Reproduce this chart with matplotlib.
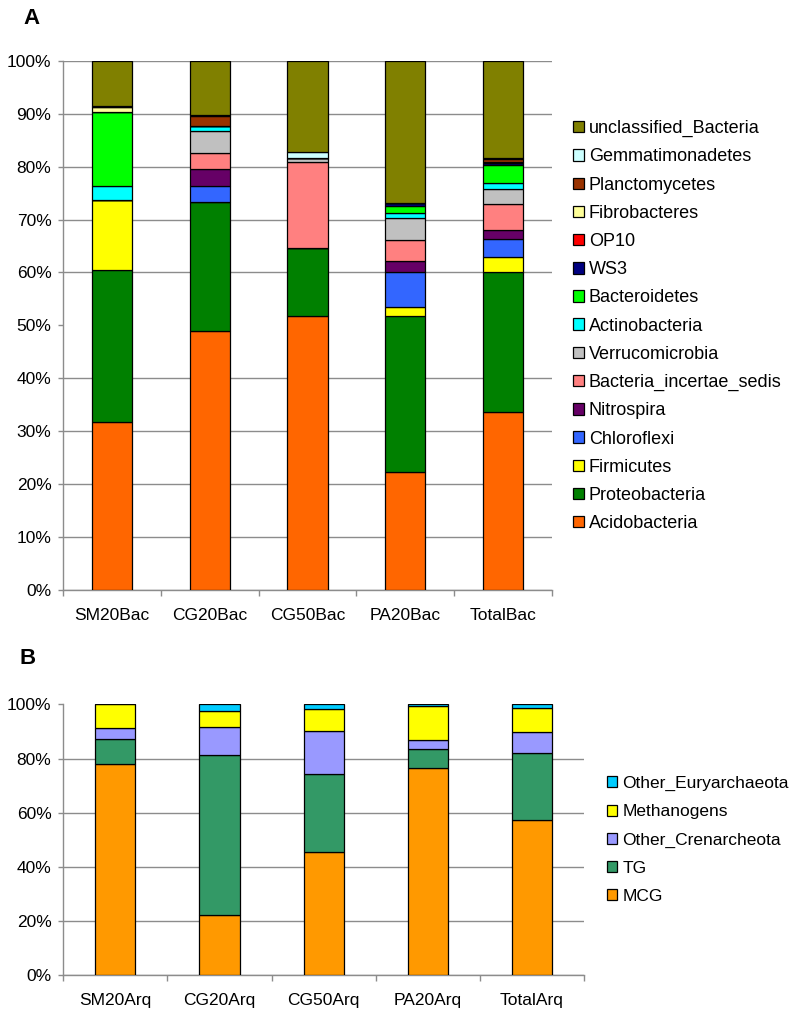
import numpy as np
import matplotlib
matplotlib.use('Agg')
import matplotlib.pyplot as plt

plt.rcParams['font.family'] = ['Liberation Sans', 'DejaVu Sans']

# Panel A data (percent of sequences), bottom to top
samples_bac = ['SM20Bac', 'CG20Bac', 'CG50Bac', 'PA20Bac', 'TotalBac']
phyla = ['Acidobacteria', 'Proteobacteria', 'Firmicutes', 'Chloroflexi', 'Nitrospira',
         'Bacteria_incertae_sedis', 'Verrucomicrobia', 'Actinobacteria', 'Bacteroidetes',
         'WS3', 'OP10', 'Fibrobacteres', 'Planctomycetes', 'Gemmatimonadetes',
         'unclassified_Bacteria']
acidobacteria = [31.7, 48.9, 51.8, 22.3, 33.6]
proteobacteria = [28.8, 24.5, 12.9, 29.5, 26.4]
firmicutes = [13.1, 0.0, 0.0, 1.7, 3.0]
chloroflexi = [0.0, 3.0, 0.0, 6.5, 3.3]
nitrospira = [0.0, 3.2, 0.0, 2.1, 1.8]
bacteria_incertae = [0.0, 2.9, 16.2, 4.1, 4.9]
verrucomicrobia = [0.0, 4.2, 0.8, 4.0, 2.7]
actinobacteria = [2.8, 0.9, 0.0, 1.1, 1.2]
bacteroidetes = [14.0, 0.0, 0.0, 1.3, 3.4]
ws3 = [0.0, 0.0, 0.0, 0.6, 0.3]
op10 = [0.0, 0.0, 0.0, 0.0, 0.1]
fibrobacteres = [0.8, 0.0, 0.0, 0.0, 0.1]
planctomycetes = [0.0, 1.9, 0.0, 0.0, 0.7]
gemmatimonadetes = [0.2, 0.3, 1.0, 0.0, 0.2]
unclassified = [8.6, 10.2, 17.3, 26.8, 18.3]

# Panel B data
samples_arq = ['SM20Arq', 'CG20Arq', 'CG50Arq', 'PA20Arq', 'TotalArq']
groups = ['MCG', 'TG', 'Other_Crenarcheota', 'Methanogens', 'Other_Euryarchaeota']
mcg = [78.0, 22.2, 45.6, 76.6, 57.3]
tg = [9.3, 59.0, 28.8, 6.9, 24.6]
other_cren = [4.1, 10.3, 15.9, 3.5, 8.0]
methanogens = [8.6, 6.0, 8.1, 12.5, 8.8]
other_eury = [0.0, 2.5, 1.6, 0.5, 1.3]

colors_a = ['#FF6600', '#008000', '#FFFF00', '#3366FF', '#660066', '#FF8080', '#C0C0C0',
            '#00FFFF', '#00FF00', '#000080', '#FF0000', '#FFFF99', '#993300', '#CCFFFF',
            '#808000']
colors_b = ['#FF9900', '#339966', '#9999FF', '#FFFF00', '#00CCFF']

series_a = [acidobacteria, proteobacteria, firmicutes, chloroflexi, nitrospira,
            bacteria_incertae, verrucomicrobia, actinobacteria, bacteroidetes, ws3, op10,
            fibrobacteres, planctomycetes, gemmatimonadetes, unclassified]
series_b = [mcg, tg, other_cren, methanogens, other_eury]

fig = plt.figure(figsize=(7.92, 10.19), dpi=100)
ax_a = fig.add_axes([0.0799, 0.4210, 0.6167, 0.5194])
ax_b = fig.add_axes([0.0799, 0.0429, 0.6574, 0.2659])

grid_col = '#8C8C8C'
fs = 12.5


def stacked(ax, samples, series, names, colors, width):
    x = np.arange(len(samples))
    bottom = np.zeros(len(samples))
    handles = []
    for vals, name, col in zip(series, names, colors):
        v = np.array(vals) / 100.0
        h = ax.bar(x, v, width, bottom=bottom, color=col, edgecolor='black',
                   linewidth=0.9, label=name, zorder=3)
        handles.append(h)
        bottom += v
    ax.set_xlim(-0.5, len(samples) - 0.5)
    ax.set_ylim(0, 1)
    ax.set_xticks(x)
    ax.set_xticklabels(samples, fontsize=fs)
    ax.set_xticks(np.arange(-0.5, len(samples)), minor=True)
    ax.tick_params(axis='x', which='major', length=0, pad=13)
    ax.tick_params(axis='x', which='minor', length=4, width=1, color=grid_col, direction='out')
    ax.tick_params(axis='y', length=3.5, width=1, color=grid_col, pad=5, labelsize=fs)
    ax.yaxis.grid(True, color=grid_col, linewidth=1.0, zorder=0)
    ax.set_axisbelow(True)
    ax.get_ygridlines()[-1].set_visible(False)
    for s in ['top', 'right']:
        ax.spines[s].set_visible(False)
    for s in ['left', 'bottom']:
        ax.spines[s].set_color(grid_col)
        ax.spines[s].set_linewidth(1.0)
    return handles


h_a = stacked(ax_a, samples_bac, series_a, phyla, colors_a, 0.41)
ax_a.set_yticks(np.arange(0, 1.01, 0.1))
ax_a.set_yticklabels(['%d%%' % v for v in range(0, 101, 10)])

h_b = stacked(ax_b, samples_arq, series_b, groups, colors_b, 0.385)
ax_b.set_yticks(np.arange(0, 1.01, 0.2))
ax_b.set_yticklabels(['%d%%' % v for v in range(0, 101, 20)])

leg_kw = dict(frameon=False, loc='center left', borderpad=0, borderaxespad=0,
              handlelength=0.6, handleheight=0.6, handletextpad=0.3)
fig.legend(h_a[::-1], phyla[::-1], bbox_to_anchor=(0.7231, 0.680), fontsize=13,
           labelspacing=0.62, **leg_kw)
fig.legend(h_b[::-1], groups[::-1], bbox_to_anchor=(0.766, 0.1757), fontsize=fs,
           labelspacing=0.76, **leg_kw)

fig.text(0.029, 1 - 18 / 1019, 'A', fontsize=16, fontweight='bold', va='center')
fig.text(0.025, 1 - 659 / 1019, 'B', fontsize=16, fontweight='bold', va='center')

plt.savefig('out.png', dpi=100)
